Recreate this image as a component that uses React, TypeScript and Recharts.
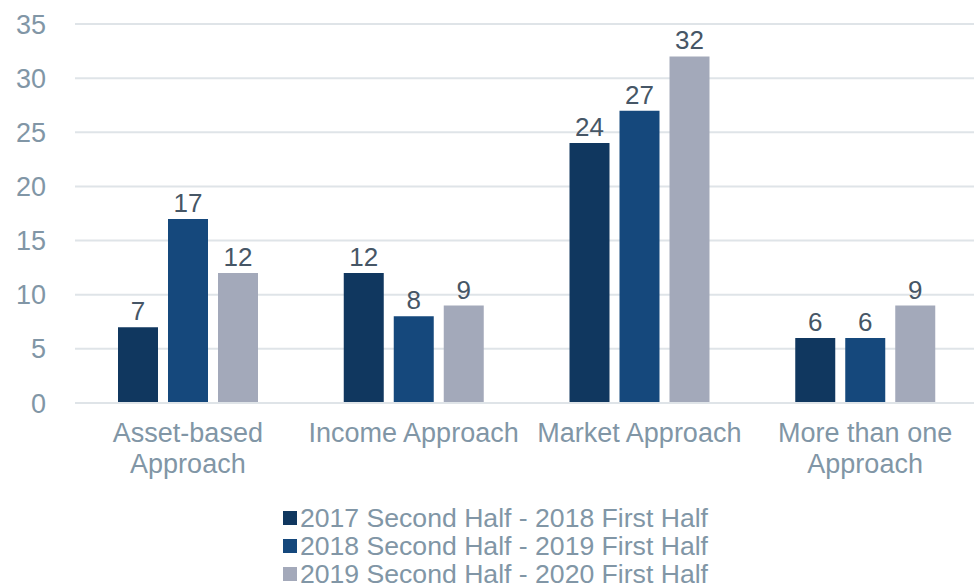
import { BarChart, Bar, XAxis, YAxis, CartesianGrid, LabelList, Legend } from 'recharts';

const categories = ['Asset-based\nApproach', 'Income Approach', 'Market Approach', 'More than one\nApproach'];
const seriesNames = [
  '2017 Second Half - 2018 First Half',
  '2018 Second Half - 2019 First Half',
  '2019 Second Half - 2020 First Half',
];
const period1 = [7, 12, 24, 6];
const period2 = [17, 8, 27, 6];
const period3 = [12, 9, 32, 9];
const yTicks = [0, 5, 10, 15, 20, 25, 30, 35];

const colors = ['#10375F', '#15487C', '#A3A9BA'];
const FONT = '"Liberation Sans", Arial, sans-serif';
const AXIS_TEXT = '#8196A6';
const LABEL_TEXT = '#465666';

const data = categories.map((name, i) => ({
  name,
  s1: period1[i],
  s2: period2[i],
  s3: period3[i],
}));

function CategoryTick(props: any) {
  const { x, y, payload } = props;
  const lines = String(payload.value).split('\n');
  return (
    <text x={x} y={y} textAnchor="middle" fill={AXIS_TEXT} fontSize={27} fontFamily={FONT}>
      {lines.map((line, i) => (
        <tspan key={i} x={x} dy={31}>
          {line}
        </tspan>
      ))}
    </text>
  );
}

function LegendBox() {
  return (
    <div style={{ height: 88, paddingTop: 4, paddingLeft: 283, boxSizing: 'border-box', fontFamily: FONT }}>
      {seriesNames.map((n, i) => (
        <div key={n} style={{ display: 'flex', alignItems: 'center', height: 28, lineHeight: '28px' }}>
          <span style={{ width: 14, height: 14, background: colors[i], marginRight: 3, display: 'inline-block' }} />
          <span style={{ color: AXIS_TEXT, fontSize: 26.6 }}>{n}</span>
        </div>
      ))}
    </div>
  );
}

export default function App() {
  return (
    <div style={{ position: 'absolute', left: 0, top: 0, width: 974, height: 588, overflow: 'hidden', background: '#fff' }}>
      <BarChart
        width={978}
        height={588}
        data={data}
        margin={{ top: 24, right: 0, left: 0, bottom: 0 }}
        barGap={10}
        barSize={40}
      >
        <CartesianGrid vertical={false} stroke="#DFE4E8" strokeWidth={2} />
        <XAxis
          dataKey="name"
          height={97}
          interval={0}
          tick={<CategoryTick />}
          tickLine={false}
          axisLine={{ stroke: '#DFE4E8', strokeWidth: 2 }}
        />
        <YAxis
          width={75}
          domain={[0, 35]}
          ticks={yTicks}
          tickLine={false}
          axisLine={false}
          tickSize={0}
          tickMargin={29}
          tick={{ fill: AXIS_TEXT, fontSize: 27, fontFamily: FONT }}
        />
        <Legend verticalAlign="bottom" content={<LegendBox />} />
        <Bar dataKey="s1" name={seriesNames[0]} fill={colors[0]} isAnimationActive={false}>
          <LabelList dataKey="s1" position="top" offset={7} fill={LABEL_TEXT} fontSize={26} fontFamily={FONT} />
        </Bar>
        <Bar dataKey="s2" name={seriesNames[1]} fill={colors[1]} isAnimationActive={false}>
          <LabelList dataKey="s2" position="top" offset={7} fill={LABEL_TEXT} fontSize={26} fontFamily={FONT} />
        </Bar>
        <Bar dataKey="s3" name={seriesNames[2]} fill={colors[2]} isAnimationActive={false}>
          <LabelList dataKey="s3" position="top" offset={7} fill={LABEL_TEXT} fontSize={26} fontFamily={FONT} />
        </Bar>
      </BarChart>
    </div>
  );
}
